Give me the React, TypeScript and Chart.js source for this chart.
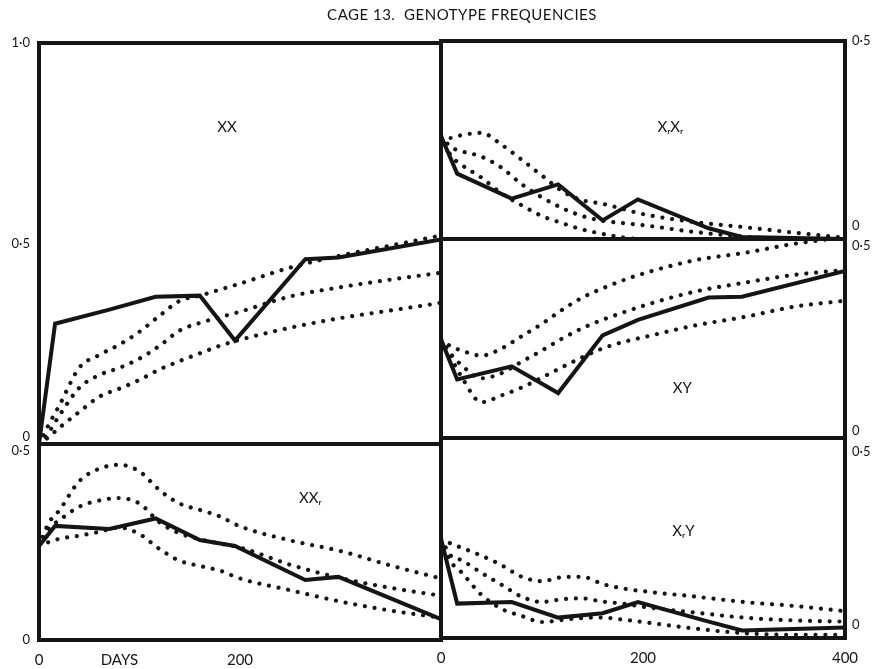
import React, { useEffect, useRef } from "react";
import { Chart, registerables } from "chart.js";

Chart.register(...registerables);

const FONT = "Lato, 'DejaVu Sans', sans-serif";
const INK = "#151515";

// ---------- data ----------
const obsDays = [0, 16, 70, 116, 160, 195, 265, 298, 400];
const curveDays = [0, 10, 20, 40, 60, 80, 100, 120, 140, 160, 180, 200, 250, 300, 350, 400];

// XX
const xxObs = [0.0, 0.3, 0.335, 0.367, 0.37, 0.258, 0.461, 0.465, 0.51];
const xxHigh = [0, 0.05, 0.095, 0.19, 0.222, 0.248, 0.28, 0.32, 0.357, 0.37, 0.385, 0.4, 0.44, 0.47, 0.495, 0.52];
const xxMid = [0, 0.03, 0.07, 0.14, 0.172, 0.19, 0.213, 0.245, 0.283, 0.302, 0.316, 0.33, 0.368, 0.391, 0.41, 0.427];
const xxLow = [0, 0.018, 0.04, 0.08, 0.118, 0.138, 0.16, 0.186, 0.207, 0.226, 0.245, 0.26, 0.29, 0.314, 0.333, 0.352];

// XrXr
const xrxrObs = [0.26, 0.165, 0.102, 0.138, 0.047, 0.1, 0.027, 0.005, 0.0];
const xrxrHigh = [0.26, 0.255, 0.262, 0.268, 0.238, 0.2, 0.16, 0.121, 0.098, 0.089, 0.076, 0.063, 0.043, 0.03, 0.016, 0.003];
const xrxrMid = [0.26, 0.232, 0.222, 0.208, 0.18, 0.138, 0.105, 0.078, 0.058, 0.046, 0.04, 0.035, 0.018, 0.006, 0, 0];
const xrxrLow = [0.26, 0.21, 0.188, 0.155, 0.115, 0.085, 0.058, 0.04, 0.024, 0.013, 0.004, 0, 0, 0, 0, 0];

// XY
const xyObs = [0.248, 0.147, 0.18, 0.113, 0.258, 0.297, 0.353, 0.355, 0.42];
const xyHigh = [0.248, 0.23, 0.22, 0.207, 0.225, 0.256, 0.287, 0.322, 0.353, 0.376, 0.396, 0.413, 0.446, 0.465, 0.488, 0.505];
const xyMid = [0.248, 0.21, 0.184, 0.15, 0.163, 0.192, 0.22, 0.25, 0.276, 0.297, 0.315, 0.332, 0.367, 0.39, 0.41, 0.422];
const xyLow = [0.248, 0.2, 0.155, 0.09, 0.107, 0.127, 0.152, 0.178, 0.203, 0.225, 0.241, 0.253, 0.282, 0.304, 0.33, 0.345];

// XXr
const xxrObs = [0.24, 0.291, 0.283, 0.31, 0.255, 0.24, 0.153, 0.161, 0.053];
const xxrHigh = [0.24, 0.3, 0.33, 0.405, 0.437, 0.447, 0.43, 0.382, 0.348, 0.332, 0.315, 0.29, 0.254, 0.227, 0.19, 0.157];
const xxrMid = [0.24, 0.285, 0.305, 0.34, 0.356, 0.362, 0.348, 0.3, 0.272, 0.257, 0.246, 0.236, 0.192, 0.158, 0.133, 0.113];
const xxrLow = [0.24, 0.25, 0.258, 0.266, 0.276, 0.287, 0.27, 0.232, 0.202, 0.189, 0.177, 0.157, 0.127, 0.098, 0.075, 0.057];

// XrY
const xryObs = [0.248, 0.086, 0.09, 0.051, 0.062, 0.09, 0.041, 0.019, 0.026];
const xryHigh = [0.248, 0.236, 0.226, 0.206, 0.182, 0.153, 0.142, 0.152, 0.153, 0.135, 0.124, 0.117, 0.104, 0.09, 0.08, 0.067];
const xryMid = [0.248, 0.205, 0.195, 0.163, 0.133, 0.103, 0.09, 0.097, 0.099, 0.091, 0.086, 0.078, 0.064, 0.051, 0.044, 0.041];
const xryLow = [0.248, 0.19, 0.165, 0.108, 0.073, 0.055, 0.04, 0.045, 0.05, 0.051, 0.046, 0.04, 0.024, 0.012, 0.008, 0.008];

// ticks
const leftDayTicks = [0, 80, 200];
const leftDayLabels = ["0", "DAYS", "200"];
const rightDayTicks = [0, 200, 400];
const rightDayLabels = ["0", "200", "400"];

const TITLE = "CAGE 13.  GENOTYPE FREQUENCIES";

// ---------- layout ----------
const W = 880;
const H = 669;
const YW_L = 39;
const YW_R = 35;
const XH = 29;

type Panel = {
  label: string;
  labelAt: [number, number];
  yMax: number;
  obs: number[];
  curves: number[][];
  rect: { l: number; r: number; t: number; b: number };
  yPos: "left" | "right";
  yTicks: number[];
  yLabels: (string | string[])[];
  xTicks?: number[];
  xLabels?: string[];
  title?: boolean;
};

const panels: Panel[] = [
  {
    label: "XX",
    labelAt: [187, 0.79],
    yMax: 1,
    obs: xxObs,
    curves: [xxHigh, xxMid, xxLow],
    rect: { l: 39, r: 441, t: 43, b: 444 },
    yPos: "left",
    yTicks: [0, 0.5, 1],
    yLabels: [["0", ""], "0·5", "1·0"],
    title: true,
  },
  {
    label: "XᵣXᵣ",
    labelAt: [227, 0.283],
    yMax: 0.5,
    obs: xrxrObs,
    curves: [xrxrHigh, xrxrMid, xrxrLow],
    rect: { l: 441, r: 845, t: 41, b: 239 },
    yPos: "right",
    yTicks: [0, 0.5],
    yLabels: [["0", "", ""], "0·5"],
  },
  {
    label: "XY",
    labelAt: [239, 0.126],
    yMax: 0.5,
    obs: xyObs,
    curves: [xyHigh, xyMid, xyLow],
    rect: { l: 441, r: 845, t: 239, b: 438 },
    yPos: "right",
    yTicks: [0, 0.5],
    yLabels: [["0", ""], ["", "0·5"]],
  },
  {
    label: "XXᵣ",
    labelAt: [270, 0.362],
    yMax: 0.5,
    obs: xxrObs,
    curves: [xxrHigh, xxrMid, xxrLow],
    rect: { l: 39, r: 441, t: 444, b: 640 },
    yPos: "left",
    yTicks: [0, 0.5],
    yLabels: ["0", ["", "0·5"]],
    xTicks: leftDayTicks,
    xLabels: leftDayLabels,
  },
  {
    label: "XᵣY",
    labelAt: [240, 0.266],
    yMax: 0.5,
    obs: xryObs,
    curves: [xryHigh, xryMid, xryLow],
    rect: { l: 441, r: 845, t: 438, b: 638 },
    yPos: "right",
    yTicks: [0, 0.5],
    yLabels: [["0", "", ""], ["", "", "0·5"]],
    xTicks: rightDayTicks,
    xLabels: rightDayLabels,
  },
];

const framePlugin = {
  id: "panelFrame",
  afterDatasetsDraw(chart: any, _args: any, opts: any) {
    const { ctx, chartArea: a } = chart;
    ctx.save();
    ctx.strokeStyle = INK;
    ctx.lineWidth = 4;
    ctx.lineJoin = "miter";
    ctx.strokeRect(a.left, a.top, a.right - a.left, a.bottom - a.top);
    const x = chart.scales.x.getPixelForValue(opts.labelAt[0]);
    const y = chart.scales.y.getPixelForValue(opts.labelAt[1]);
    ctx.fillStyle = INK;
    ctx.font = `15px ${FONT}`;
    ctx.textAlign = "center";
    ctx.textBaseline = "middle";
    ctx.fillText(opts.label, x, y);
    if (opts.title) {
      ctx.font = `15px ${FONT}`;
      try {
        (ctx as any).letterSpacing = "0.5px";
      } catch (e) {}
      ctx.fillText(TITLE, 462, 15);
    }
    ctx.restore();
  },
};

function makeConfig(p: Panel): any {
  const hasX = !!p.xTicks;
  const padding = {
    left: p.yPos === "left" ? p.rect.l - YW_L : p.rect.l,
    right: p.yPos === "right" ? W - p.rect.r - YW_R : W - p.rect.r,
    top: p.rect.t,
    bottom: hasX ? H - p.rect.b - XH : H - p.rect.b,
  };
  const datasets: any[] = [
    {
      data: obsDays.map((d, i) => ({ x: d, y: p.obs[i] })),
      borderColor: INK,
      borderWidth: 4,
      borderJoinStyle: "miter",
      pointRadius: 0,
      tension: 0,
      fill: false,
    },
    ...p.curves.map((c) => ({
      data: curveDays.map((d, i) => ({ x: d, y: c[i] })),
      borderColor: INK,
      borderWidth: 4.2,
      borderDash: [0.01, 9.8],
      borderCapStyle: "round",
      pointRadius: 0,
      cubicInterpolationMode: "monotone",
      fill: false,
    })),
  ];
  return {
    type: "line",
    data: { datasets },
    options: {
      responsive: false,
      animation: false,
      events: [],
      layout: { padding },
      plugins: {
        legend: { display: false },
        tooltip: { enabled: false },
        title: { display: false },
        panelFrame: { label: p.label, labelAt: p.labelAt, title: !!p.title },
      },
      scales: {
        x: {
          type: "linear",
          min: 0,
          max: 400,
          display: hasX,
          grid: { display: false, drawTicks: false },
          border: { display: false },
          afterBuildTicks: (s: any) => {
            s.ticks = (p.xTicks || []).map((v) => ({ value: v }));
          },
          afterFit: (s: any) => {
            s.height = hasX ? XH : 0;
          },
          ticks: {
            autoSkip: false,
            maxRotation: 0,
            padding: 11,
            color: INK,
            font: { family: FONT, size: 15 },
            callback: (_v: any, i: number) => (p.xLabels || [])[i],
          },
        },
        y: {
          type: "linear",
          position: p.yPos,
          min: 0,
          max: p.yMax,
          grid: { display: false, drawTicks: false },
          border: { display: false },
          afterBuildTicks: (s: any) => {
            s.ticks = p.yTicks.map((v) => ({ value: v }));
          },
          afterFit: (s: any) => {
            s.width = p.yPos === "left" ? YW_L : YW_R;
          },
          ticks: {
            autoSkip: false,
            padding: p.yPos === "left" ? 9 : 7,
            color: INK,
            font: { family: FONT, size: 13, lineHeight: 1.05 },
            callback: (_v: any, i: number) => p.yLabels[i],
          },
        },
      },
    },
    plugins: [framePlugin],
  };
}

export default function App() {
  const refs = useRef<(HTMLCanvasElement | null)[]>([]);

  useEffect(() => {
    const charts = panels.map((p, i) => new Chart(refs.current[i] as HTMLCanvasElement, makeConfig(p)));
    return () => charts.forEach((c) => c.destroy());
  }, []);

  return (
    <div style={{ position: "absolute", left: 0, top: 0, width: W, height: H, background: "#fff" }}>
      {panels.map((p, i) => (
        <canvas
          key={p.label}
          ref={(el) => {
            refs.current[i] = el;
          }}
          width={W}
          height={H}
          style={{ position: "absolute", left: 0, top: 0, width: W, height: H }}
        />
      ))}
    </div>
  );
}
